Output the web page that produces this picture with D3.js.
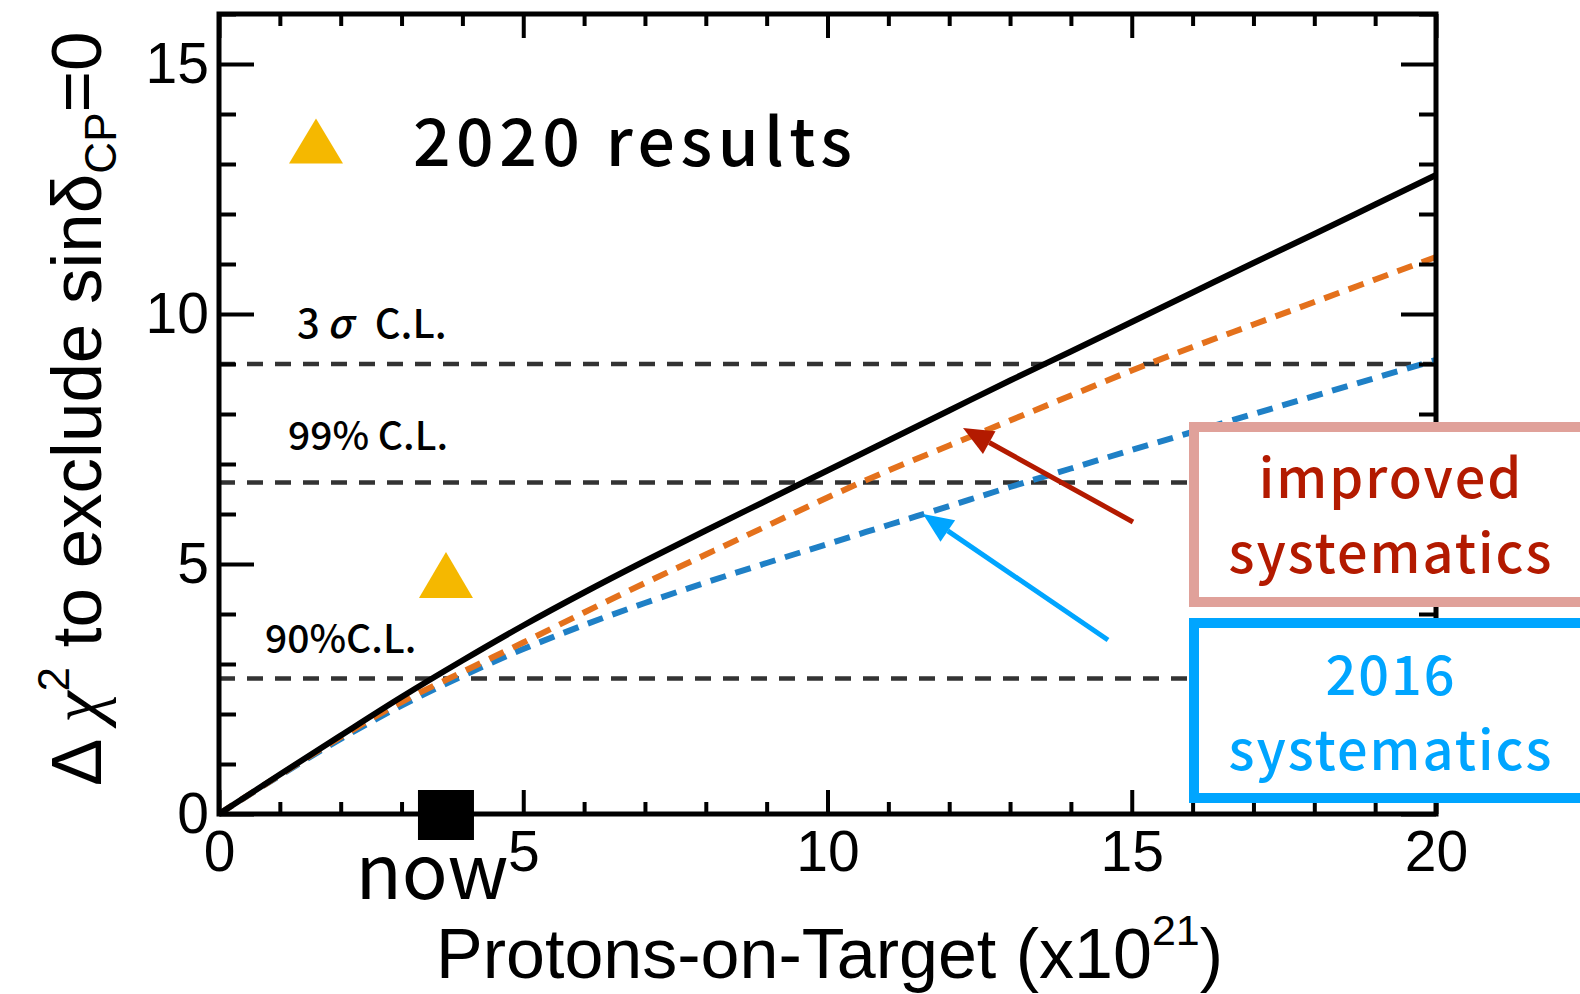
<!DOCTYPE html>
<html>
<head>
<meta charset="utf-8">
<script src="https://cdn.jsdelivr.net/npm/d3@7"></script>
<style>
  body { margin: 0; background: #fff; }
  svg { display: block; }
</style>
</head>
<body>
<svg id="chart" width="1580" height="994"></svg>
<script>
// Protons-on-target (x10^21) at which the sensitivity curves are sampled
const pot = [0, 1, 2, 3, 4, 5, 6, 7, 8, 9, 10, 11, 12, 13, 14, 15, 16, 17, 18, 19, 20];
// Δχ² to exclude sinδCP = 0
const chi2Nominal  = [0, 0.79, 1.57, 2.34, 3.07, 3.77, 4.43, 5.06, 5.67, 6.27, 6.87, 7.47, 8.07, 8.67, 9.25, 9.84, 10.43, 11.02, 11.60, 12.19, 12.78];
const chi2Improved = [0, 0.78, 1.54, 2.24, 2.84, 3.43, 4.03, 4.62, 5.19, 5.76, 6.33, 6.87, 7.37, 7.87, 8.37, 8.87, 9.34, 9.79, 10.24, 10.69, 11.14];
const chi2Sys2016  = [0, 0.77, 1.50, 2.17, 2.76, 3.30, 3.78, 4.22, 4.63, 5.02, 5.40, 5.78, 6.16, 6.54, 6.91, 7.28, 7.64, 8.00, 8.36, 8.72, 9.08];

// confidence-level thresholds
const clValues = [2.71, 6.63, 9.0];
const clLabels = ["90%C.L.", "99% C.L.", "3σ C.L."];

// current exposure and the 2020 result
const nowPOT = 3.73;
const result2020 = 4.78;

// axis ticks
const xMajorTicks = [0, 5, 10, 15, 20];
const xMinorTicks = [1, 2, 3, 4, 6, 7, 8, 9, 11, 12, 13, 14, 16, 17, 18, 19];
const yMajorTicks = [0, 5, 10, 15];
const yMinorTicks = [1, 2, 3, 4, 6, 7, 8, 9, 11, 12, 13, 14, 16];

const svg = d3.select("#chart");
const L = 219, R = 1436, T = 14, B = 814;
const x = d3.scaleLinear().domain([0, 20]).range([L, R]);
const y = d3.scaleLinear().domain([0, 16]).range([B, T]);

const axisFont = "'Liberation Sans', Arial, Helvetica, sans-serif";
const jpFont = "'Noto Sans CJK JP', 'Noto Sans', sans-serif";

// confidence-level reference lines
svg.append("g").selectAll("line").data(clValues).join("line")
  .attr("x1", x(0)).attr("x2", x(20))
  .attr("y1", d => y(d)).attr("y2", d => y(d))
  .attr("stroke", "#333").attr("stroke-width", 4.5)
  .attr("stroke-dasharray", "16,12");

// sensitivity curves
const line = d3.line().x((d, i) => x(pot[i])).y(d => y(d)).curve(d3.curveMonotoneX);
svg.append("path").datum(chi2Sys2016).attr("d", line)
  .attr("fill", "none").attr("stroke", "#1f80c6").attr("stroke-width", 6)
  .attr("stroke-dasharray", "16,10");
svg.append("path").datum(chi2Improved).attr("d", line)
  .attr("fill", "none").attr("stroke", "#e4711c").attr("stroke-width", 6)
  .attr("stroke-dasharray", "16,10");
svg.append("path").datum(chi2Nominal).attr("d", line)
  .attr("fill", "none").attr("stroke", "#000").attr("stroke-width", 6);

// axes with inward ticks on all four sides
function styleAxis(g) {
  g.select(".domain").remove();
  g.selectAll(".tick line").attr("stroke", "#000").attr("stroke-width", 4);
  g.selectAll(".tick text").attr("font-family", axisFont).attr("font-size", 57).attr("fill", "#000");
}
svg.append("g").attr("transform", `translate(0,${B})`)
  .call(d3.axisBottom(x).tickValues(xMajorTicks).tickSize(-24).tickPadding(17).tickFormat(d3.format("d")))
  .call(styleAxis);
svg.append("g").attr("transform", `translate(0,${B})`)
  .call(d3.axisBottom(x).tickValues(xMinorTicks).tickSize(-12).tickFormat(""))
  .call(styleAxis);
svg.append("g").attr("transform", `translate(0,${T})`)
  .call(d3.axisTop(x).tickValues(xMajorTicks).tickSize(-24).tickFormat(""))
  .call(styleAxis);
svg.append("g").attr("transform", `translate(0,${T})`)
  .call(d3.axisTop(x).tickValues(xMinorTicks).tickSize(-12).tickFormat(""))
  .call(styleAxis);
svg.append("g").attr("transform", `translate(${L},0)`)
  .call(d3.axisLeft(y).tickValues(yMajorTicks).tickSize(-35).tickPadding(10).tickFormat(d3.format("d")))
  .call(styleAxis);
svg.append("g").attr("transform", `translate(${L},0)`)
  .call(d3.axisLeft(y).tickValues(yMinorTicks).tickSize(-17).tickFormat(""))
  .call(styleAxis);
svg.append("g").attr("transform", `translate(${R},0)`)
  .call(d3.axisRight(y).tickValues(yMajorTicks).tickSize(-35).tickFormat(""))
  .call(styleAxis);
svg.append("g").attr("transform", `translate(${R},0)`)
  .call(d3.axisRight(y).tickValues(yMinorTicks).tickSize(-17).tickFormat(""))
  .call(styleAxis);

// frame
svg.append("rect").attr("x", L).attr("y", T).attr("width", R - L).attr("height", B - T)
  .attr("fill", "none").attr("stroke", "#000").attr("stroke-width", 5);

// axis titles
const xTitle = svg.append("text").attr("x", 436).attr("y", 978)
  .attr("font-family", axisFont).attr("font-size", 70).attr("fill", "#000");
xTitle.append("tspan").text("Protons-on-Target (x10");
xTitle.append("tspan").attr("font-size", 43).attr("dy", -33).text("21");
xTitle.append("tspan").attr("dy", 33).text(")");

const yTitle = svg.append("text").attr("transform", "translate(101,786) rotate(-90)")
  .attr("font-family", axisFont).attr("font-size", 71).attr("fill", "#000");
yTitle.append("tspan").text("Δ ");
yTitle.append("tspan").attr("font-family", "'Liberation Serif', serif").attr("font-style", "italic").text("χ");
yTitle.append("tspan").attr("font-size", 44).attr("dy", -32).text("2");
yTitle.append("tspan").attr("dy", 32).text(" to exclude sinδ");
yTitle.append("tspan").attr("font-size", 44).attr("dy", 15).text("CP");
yTitle.append("tspan").attr("dy", -15).text("=0");

// confidence-level labels
const clPos = [[265, 653], [288, 450], [297, 338]];
clLabels.forEach((lab, i) => {
  const t = svg.append("text").attr("x", clPos[i][0]).attr("y", clPos[i][1])
    .attr("font-family", jpFont).attr("font-size", 39).attr("font-weight", 500).attr("fill", "#000");
  if (lab.startsWith("3σ")) {
    t.attr("font-size", 40);
    t.append("tspan").text("3");
    t.append("tspan").attr("font-style", "italic").attr("dx", 7).text("σ");
    t.append("tspan").attr("dx", 14).text(" C.L.");
  } else {
    t.text(lab);
  }
});

// 2020 result and current exposure markers
const tri = (cx, cy, w, h) => `M${cx},${cy - h / 2}L${cx + w / 2},${cy + h / 2}L${cx - w / 2},${cy + h / 2}Z`;
svg.append("path").attr("d", tri(x(nowPOT), y(result2020), 54, 46)).attr("fill", "#f5b800");
svg.append("rect").attr("x", x(nowPOT) - 28).attr("y", y(0) - 24).attr("width", 56).attr("height", 50).attr("fill", "#000");
svg.append("text").attr("x", 432).attr("y", 899).attr("text-anchor", "middle")
  .attr("font-family", jpFont).attr("font-size", 76).attr("font-weight", 400).attr("fill", "#000").text("now");

// legend entry
svg.append("path").attr("d", tri(316, 141, 54, 45)).attr("fill", "#f5b800");
svg.append("text").attr("x", 413).attr("y", 166)
  .attr("font-family", jpFont).attr("font-size", 66).attr("font-weight", 500)
  .attr("letter-spacing", 5.5).attr("fill", "#000").text("2020 results");

// systematics boxes
const boxes = [
  { y0: 427, y1: 602, stroke: "#e0a19a", color: "#b31a00", lines: ["improved", "systematics"], base: [498, 573] },
  { y0: 623, y1: 798, stroke: "#00a5ff", color: "#00a5ff", lines: ["2016", "systematics"], base: [695, 770] }
];
boxes.forEach(b => {
  svg.append("rect").attr("x", 1194).attr("y", b.y0).attr("width", 420).attr("height", b.y1 - b.y0)
    .attr("fill", "#fff").attr("stroke", b.stroke).attr("stroke-width", 10);
  b.lines.forEach((s, i) => {
    svg.append("text").attr("x", 1391).attr("y", b.base[i]).attr("text-anchor", "middle")
      .attr("font-family", jpFont).attr("font-size", 54).attr("font-weight", 500)
      .attr("letter-spacing", 2).attr("fill", b.color).text(s);
  });
});

// arrows pointing at the curves
function arrow(x1, y1, x2, y2, color) {
  const a = Math.atan2(y2 - y1, x2 - x1);
  const hl = 30, hw = 13;
  const bx = x2 - hl * Math.cos(a), by = y2 - hl * Math.sin(a);
  svg.append("line").attr("x1", x1).attr("y1", y1).attr("x2", bx).attr("y2", by)
    .attr("stroke", color).attr("stroke-width", 5);
  svg.append("path").attr("d",
    `M${x2},${y2}L${bx + hw * Math.sin(a)},${by - hw * Math.cos(a)}L${bx - hw * Math.sin(a)},${by + hw * Math.cos(a)}Z`)
    .attr("fill", color);
}
arrow(1133, 522, 963, 428, "#b31a00");
arrow(1108, 640, 923, 514, "#00a5ff");
</script>
</body>
</html>
